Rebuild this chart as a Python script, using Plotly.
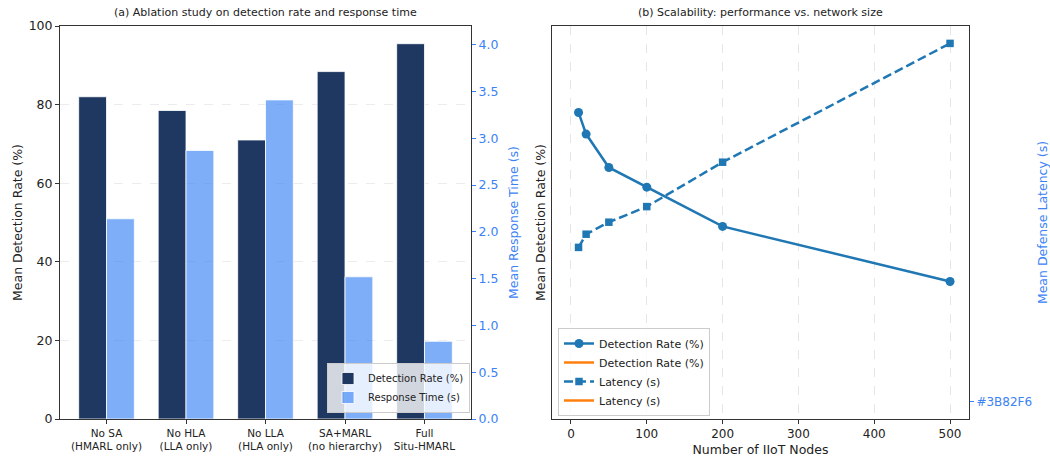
import plotly.graph_objects as go

# ---------------- data ----------------
variants = ["No SA<br>(HMARL only)", "No HLA<br>(LLA only)", "No LLA<br>(HLA only)",
            "SA+MARL<br>(no hierarchy)", "Full<br>Situ-HMARL"]
detection_rate = [82.0, 78.5, 71.0, 88.4, 95.5]
response_time = [2.14, 2.87, 3.41, 1.52, 0.83]

nodes = [10, 20, 50, 100, 200, 500]
scal_detection = [95.6, 94.5, 92.8, 91.8, 89.8, 87.0]
scal_latency = [1.43, 1.54, 1.64, 1.77, 2.14, 3.13]

FONT = "DejaVu Sans"
DARK = "rgb(31,56,97)"
LIGHT = "rgba(59,130,246,0.65)"
BLUE_TXT = "#3B82F6"
C0 = "#1f77b4"
C1 = "#ff7f0e"
SPINE = "#333333"

W, H = 1050, 462
def px_x(p):
    return p / W
def px_y(p):
    return 1 - p / H

idx = list(range(len(variants)))

fig = go.Figure()

# ---------- (a) bars ----------
fig.add_trace(go.Bar(x=idx, y=detection_rate, width=0.35, offset=-0.35,
                     marker=dict(color=DARK, line=dict(color="white", width=0.8)),
                     name="Detection Rate (%)", xaxis="x", yaxis="y", legend="legend"))
fig.add_trace(go.Bar(x=idx, y=response_time, width=0.35, offset=0,
                     marker=dict(color=LIGHT, line=dict(color="white", width=0.8)),
                     name="Response Time (s)", xaxis="x", yaxis="y2", legend="legend"))

# ---------- (b) lines ----------
fig.add_trace(go.Scatter(x=nodes, y=scal_detection, mode="lines+markers",
                         line=dict(color=C0, width=2.5),
                         marker=dict(symbol="circle", size=9, color=C0),
                         name="Detection Rate (%)", xaxis="x2", yaxis="y3", legend="legend2"))
fig.add_trace(go.Scatter(x=[None], y=[None], mode="lines",
                         line=dict(color=C1, width=2.5),
                         name="Detection Rate (%)", xaxis="x2", yaxis="y3", legend="legend2"))
fig.add_trace(go.Scatter(x=nodes, y=scal_latency, mode="lines+markers",
                         line=dict(color=C0, width=2.5, dash="9px,4px"),
                         marker=dict(symbol="square", size=7.5, color=C0),
                         name="Latency (s)", xaxis="x2", yaxis="y4", legend="legend2"))
fig.add_trace(go.Scatter(x=[None], y=[None], mode="lines",
                         line=dict(color=C1, width=2.5),
                         name="Latency (s)", xaxis="x2", yaxis="y4", legend="legend2"))

dom_y = [px_y(419), px_y(26)]
axis_common = dict(showline=True, linecolor=SPINE, linewidth=1, ticks="outside",
                   ticklen=4, tickcolor=SPINE, automargin=False, zeroline=False)

fig.update_layout(
    template="none",
    width=W, height=H,
    margin=dict(l=0, r=0, t=0, b=0),
    paper_bgcolor="white", plot_bgcolor="white",
    font=dict(family=FONT, size=12, color="#222222"),
    barmode="overlay",
    showlegend=True,
    xaxis=dict(domain=[px_x(60), px_x(471)], range=[-0.585, 4.585], anchor="y",
               tickvals=idx, ticktext=variants, tickfont=dict(size=10.5),
               mirror=True, showgrid=False, **axis_common),
    yaxis=dict(domain=dom_y, range=[0, 100], anchor="x", tickvals=[0, 20, 40, 60, 80, 100],
               tickfont=dict(size=12.5), showgrid=True, gridcolor="#ececec", griddash="dash",
               gridwidth=0.8,
               title=dict(text="Mean Detection Rate (%)", font=dict(size=12.5), standoff=3),
               **axis_common),
    yaxis2=dict(overlaying="y", side="right", anchor="x", range=[0, 4.2],
                tickvals=[0, 0.5, 1.0, 1.5, 2.0, 2.5, 3.0, 3.5, 4.0],
                ticktext=["0.0", "0.5", "1.0", "1.5", "2.0", "2.5", "3.0", "3.5", "4.0"],
                tickfont=dict(size=12.5, color=BLUE_TXT), showgrid=False,
                title=dict(text="Mean Response Time (s)", font=dict(size=12.5, color=BLUE_TXT), standoff=11),
                **{**axis_common, "tickcolor": BLUE_TXT}),
    xaxis2=dict(domain=[px_x(552), px_x(969)], range=[-25, 525], anchor="y3",
                tickvals=[0, 100, 200, 300, 400, 500], tickfont=dict(size=12),
                mirror=True, showgrid=True, gridcolor="#e6e6e6", griddash="dash", gridwidth=0.8,
                title=dict(text="Number of IIoT Nodes", font=dict(size=12.5), standoff=4),
                **axis_common),
    yaxis3=dict(domain=dom_y, range=[80, 100], anchor="x2", showticklabels=False,
                showgrid=False,
                title=dict(text="Mean Detection Rate (%)", font=dict(size=12.5), standoff=2),
                **{**axis_common, "ticks": ""}),
    yaxis4=dict(overlaying="y3", side="right", anchor="x2", range=[0, 3.275],
                tickvals=[0.144], ticktext=["#3B82F6"], showgrid=False,
                tickfont=dict(size=12, color=BLUE_TXT),
                title=dict(text="Mean Defense Latency (s)", font=dict(size=12.5, color=BLUE_TXT), standoff=12),
                **{**axis_common, "tickcolor": BLUE_TXT}),
    legend=dict(x=px_x(470), y=px_y(413), xanchor="right", yanchor="bottom",
                bgcolor="rgba(255,255,255,0.8)", bordercolor="#cccccc", borderwidth=1,
                font=dict(size=10, color="#222222"), tracegroupgap=0),
    legend2=dict(x=px_x(558), y=px_y(416), xanchor="left", yanchor="bottom",
                 bgcolor="rgba(255,255,255,0.8)", bordercolor="#cccccc", borderwidth=1,
                 font=dict(size=11, color="#222222"), tracegroupgap=0),
    annotations=[
        dict(text="(a) Ablation study on detection rate and response time", x=(px_x(60) + px_x(471)) / 2,
             y=px_y(13), xref="paper", yref="paper", xanchor="center", yanchor="middle",
             showarrow=False, font=dict(size=11)),
        dict(text="(b) Scalability: performance vs. network size", x=(px_x(552) + px_x(969)) / 2,
             y=px_y(13), xref="paper", yref="paper", xanchor="center", yanchor="middle",
             showarrow=False, font=dict(size=11)),
    ],
)

fig.write_html("out.html", config={"displayModeBar": False},
               post_script="document.body.style.margin='0';document.body.style.overflow='hidden';")
